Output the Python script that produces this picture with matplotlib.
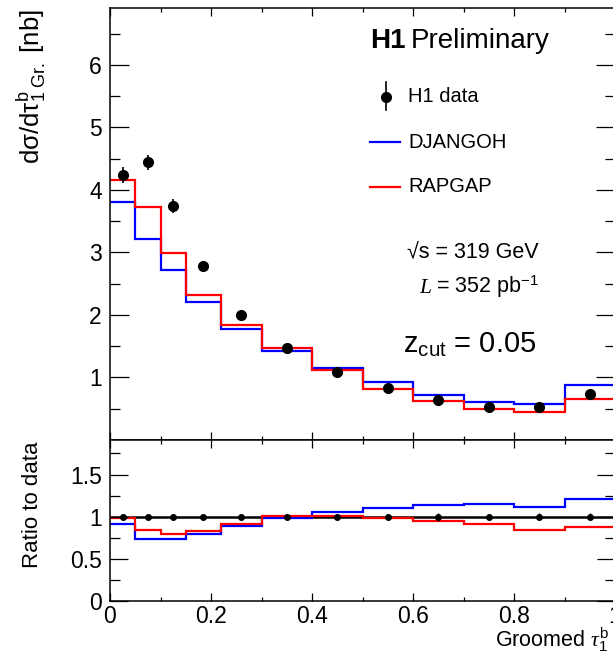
import numpy as np
import matplotlib
matplotlib.use("Agg")
import matplotlib.pyplot as plt
from matplotlib.lines import Line2D
from matplotlib.ticker import MultipleLocator, FixedLocator, FuncFormatter

plt.rcParams['font.family'] = ['Liberation Sans', 'DejaVu Sans']
plt.rcParams['mathtext.fontset'] = 'custom'
plt.rcParams['mathtext.rm'] = 'Liberation Sans'
plt.rcParams['mathtext.it'] = 'Liberation Serif:italic'
plt.rcParams['mathtext.bf'] = 'Liberation Sans:bold'

# binning in groomed tau_1^b
edges = [0.0, 0.05, 0.10, 0.15, 0.22, 0.30, 0.40, 0.50, 0.60, 0.70, 0.80, 0.90, 1.00]
centers = [0.025, 0.075, 0.125, 0.185, 0.26, 0.35, 0.45, 0.55, 0.65, 0.75, 0.85, 0.95]

# cross sections [nb]
data = [4.24, 4.44, 3.74, 2.79, 2.00, 1.47, 1.09, 0.83, 0.645, 0.53, 0.52, 0.735]
data_err = [0.13, 0.12, 0.11, 0.07, 0.05, 0.04, 0.03, 0.03, 0.03, 0.02, 0.02, 0.03]
djangoh = [3.81, 3.21, 2.72, 2.21, 1.77, 1.43, 1.15, 0.92, 0.725, 0.61, 0.58, 0.88]
rapgap = [4.16, 3.73, 2.99, 2.32, 1.84, 1.47, 1.12, 0.82, 0.62, 0.49, 0.45, 0.656]

# ratio to data
djangoh_ratio = [0.91, 0.73, 0.73, 0.80, 0.89, 0.99, 1.05, 1.10, 1.135, 1.15, 1.11, 1.21]
rapgap_ratio = [0.98, 0.84, 0.80, 0.83, 0.91, 1.01, 1.01, 0.98, 0.95, 0.91, 0.84, 0.88]
data_ratio = [1.0] * 12

W, H = 613, 653


def fx(px):
    return px / W


def fy(py):
    return 1 - py / H


fig = plt.figure(figsize=(W / 100, H / 100), dpi=100)
ax1 = fig.add_axes([fx(110), fy(440), 505 / W, 432 / H])
ax2 = fig.add_axes([fx(110), fy(601), 505 / W, 161 / H])

blue, red = '#0000ff', '#ff0000'

ax1.stairs(djangoh, edges, color=blue, lw=1.6, baseline=None)
ax1.stairs(rapgap, edges, color=red, lw=1.6, baseline=None)
ax1.errorbar(centers, data, yerr=data_err, fmt='o', color='black', ms=7,
             elinewidth=1.2, capsize=0)

ax2.axhline(1.0, color='black', lw=1.8, zorder=1)
ax2.stairs(djangoh_ratio, edges, color=blue, lw=1.6, baseline=None)
ax2.stairs(rapgap_ratio, edges, color=red, lw=1.6, baseline=None)
ratio_err = np.array(data_err) / np.array(data)
ax2.errorbar(centers, data_ratio, yerr=ratio_err, fmt='o', color='black', ms=4,
             elinewidth=1.0, capsize=0, zorder=3)

fmt = FuncFormatter(lambda v, p: '%g' % v)
for ax in (ax1, ax2):
    ax.set_xlim(0, 1)
    ax.xaxis.set_major_locator(MultipleLocator(0.2))
    ax.xaxis.set_minor_locator(MultipleLocator(0.1))
    ax.xaxis.set_major_formatter(fmt)
    ax.yaxis.set_major_formatter(fmt)
    ax.tick_params(which='both', direction='in', top=True, right=True,
                   width=0.9, labelsize=16.5, color='black')
    ax.tick_params(axis='x', which='major', length=6)
    ax.tick_params(axis='x', which='minor', length=3)
    for s in ax.spines.values():
        s.set_linewidth(1.1)

ax1.set_ylim(0, 6.91)
ax1.yaxis.set_major_locator(FixedLocator([1, 2, 3, 4, 5, 6]))
ax1.yaxis.set_minor_locator(MultipleLocator(0.5))
ax1.tick_params(axis='y', which='major', length=14, pad=6)
ax1.tick_params(axis='y', which='minor', length=7)
ax1.tick_params(axis='x', labelbottom=False)

ax2.set_ylim(0, 1.91)
ax2.yaxis.set_major_locator(FixedLocator([0, 0.5, 1, 1.5]))
ax2.yaxis.set_minor_locator(MultipleLocator(0.25))
ax2.tick_params(axis='y', which='major', length=13, pad=6)
ax2.tick_params(axis='y', which='minor', length=7)
ax2.tick_params(axis='x', pad=3)

# axis titles
fig.text(fx(31), fy(9), r'dσ/d$\mathrm{τ}^{\mathrm{b}}_{1\ \mathrm{Gr.}}$ [nb]', rotation=90,
         ha='center', va='top', fontsize=18.5)
fig.text(fx(33), fy(505), 'Ratio to data', rotation=90, ha='center', va='center',
         fontsize=16)
fig.text(fx(495), fy(647), r'Groomed $\tau_{1}^{\mathrm{b}}$', ha='left', va='baseline',
         fontsize=15.5)

# labels
fig.text(fx(370), fy(48), 'H1', fontweight='bold', fontsize=20, va='baseline')
fig.text(fx(411), fy(48), 'Preliminary', fontsize=20, va='baseline')

fig.add_artist(Line2D([fx(386)], [fy(97)], marker='o', ms=7, color='black',
                      transform=fig.transFigure))
fig.add_artist(Line2D([fx(386), fx(386)], [fy(82), fy(110)], color='black', lw=1.2,
                      transform=fig.transFigure))
fig.add_artist(Line2D([fx(370), fx(400)], [fy(142), fy(142)], color=blue, lw=1.6,
                      transform=fig.transFigure))
fig.add_artist(Line2D([fx(370), fx(400)], [fy(187), fy(187)], color=red, lw=1.6,
                      transform=fig.transFigure))
fig.text(fx(408), fy(97), 'H1 data', fontsize=14.5, va='center')
fig.text(fx(408), fy(142), 'DJANGOH', fontsize=14.5, va='center')
fig.text(fx(408), fy(187), 'RAPGAP', fontsize=14.5, va='center')

fig.text(fx(407), fy(258), '\u221as = 319 GeV', fontsize=15.5, va='baseline')
fig.text(fx(419), fy(293), 'L', fontsize=15.5, va='baseline', family='Liberation Serif',
         style='italic')
fig.text(fx(436), fy(293), r'= 352 pb$^{\mathrm{-1}}$', fontsize=15.5, va='baseline')
fig.text(fx(403), fy(353), r'z$_{\mathrm{cut}}$ = 0.05', fontsize=21, va='baseline')

fig.savefig('out.png', dpi=100)
